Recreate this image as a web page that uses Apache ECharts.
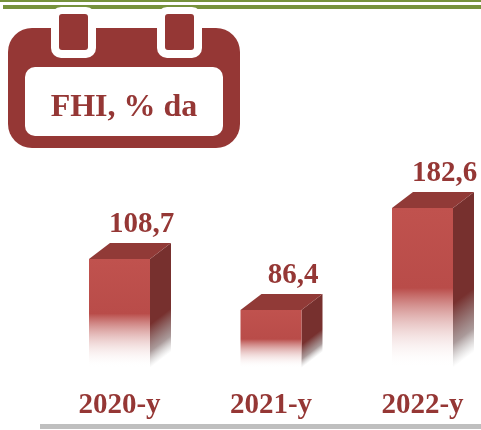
<!DOCTYPE html>
<html><head><meta charset="utf-8">
<style>html,body{margin:0;padding:0;background:#fff}#c{width:481px;height:430px}</style>
<script src="https://cdn.jsdelivr.net/npm/echarts@6/dist/echarts.min.js"></script>
</head><body><div id="c"></div>
<script>
const categories = ['2020-y', '2021-y', '2022-y'];
const values = [108.7, 86.4, 182.6];
const drawnHeights = [109, 58, 160];
const title = 'FHI, % da';

const RED = '#953735', FONT = '"Liberation Serif","Times New Roman",serif';
const DX = 21, DY = 16, W = 61;
const ring = (x) => [
  {type:'rect',shape:{x:x,y:7,width:45,height:51,r:10},style:{fill:'#fff'},z:5},
  {type:'rect',shape:{x:x+8,y:14,width:29,height:36,r:3},style:{fill:RED},z:6}
];
const chart = echarts.init(document.getElementById('c'), null, {renderer:'canvas'});
const grad = (stops) => new echarts.graphic.LinearGradient(0,0,0,1,stops);
chart.setOption({
  animation:false,
  backgroundColor:'#fff',
  grid:{left:119.5,right:58.5,top:0,bottom:62},
  xAxis:{type:'category',boundaryGap:false,data:categories,axisLine:{show:false},axisTick:{show:false},splitLine:{show:false},
    axisLabel:{color:RED,fontFamily:FONT,fontWeight:'bold',fontSize:29,margin:23,interval:0,showMinLabel:true,showMaxLabel:true}},
  yAxis:{type:'value',min:0,max:368,show:false},
  graphic:{elements:[
    {type:'rect',shape:{x:0,y:0,width:481,height:2},style:{fill:'#76923C'},z:1},
    {type:'rect',shape:{x:3,y:5,width:478,height:4},style:{fill:'#76923C'},z:1},
    {type:'rect',shape:{x:8,y:28,width:232,height:120,r:24},style:{fill:RED},z:2},
    {type:'rect',shape:{x:25,y:67,width:198,height:69,r:10},style:{fill:'#fff'},z:3},
    ...ring(51),...ring(157),
    {type:'text',x:124,y:108,style:{text:title,fill:RED,font:'bold 32px '+FONT,textAlign:'center',textVerticalAlign:'middle'},z:7},
    {type:'rect',shape:{x:40,y:424,width:441,height:5},style:{fill:'#BFBFBF'},z:1}
  ]},
  series:[{
    type:'custom',
    clip:false,
    data:drawnHeights.map((h,i)=>[i,h]),
    encode:{x:0,y:1},
    renderItem:(p,api)=>{
      const i=api.value(0);
      const top=api.coord([i,api.value(1)]), base=api.coord([i,0]);
      const l=top[0]-W/2, r=top[0]+W/2, t=top[1], b=base[1];
      const L=(b-t)*0.795;
      const sideFill=new echarts.graphic.LinearGradient(r,t,r+0.606*L,t+0.795*L,[
        {offset:0,color:'#77302E'},{offset:.6,color:'#77302E'},
        {offset:.85,color:'rgba(125,100,100,.65)'},{offset:1,color:'rgba(160,160,160,0)'}],true);
      return {type:'group',children:[
        {type:'polygon',shape:{points:[[r,t],[r+DX,t-DY],[r+DX,b-DY],[r,b]]},style:{fill:sideFill}},
        {type:'polygon',shape:{points:[[l,t],[l+DX,t-DY],[r+DX,t-DY],[r,t]]},style:{fill:'#913A37'}},
        {type:'rect',shape:{x:l,y:t,width:W,height:b-t},
          style:{fill:grad([{offset:0,color:'#C0524E'},{offset:.5,color:'#B94C49'},{offset:1,color:'rgba(255,255,255,0)'}])}},
        {type:'text',x:top[0]+DX+1,y:t-DY-4,
          style:{text:String(values[i]).replace('.',','),fill:RED,font:'bold 29px '+FONT,textAlign:'center',textVerticalAlign:'bottom'}}
      ]};
    }
  }]
});
</script></body></html>
